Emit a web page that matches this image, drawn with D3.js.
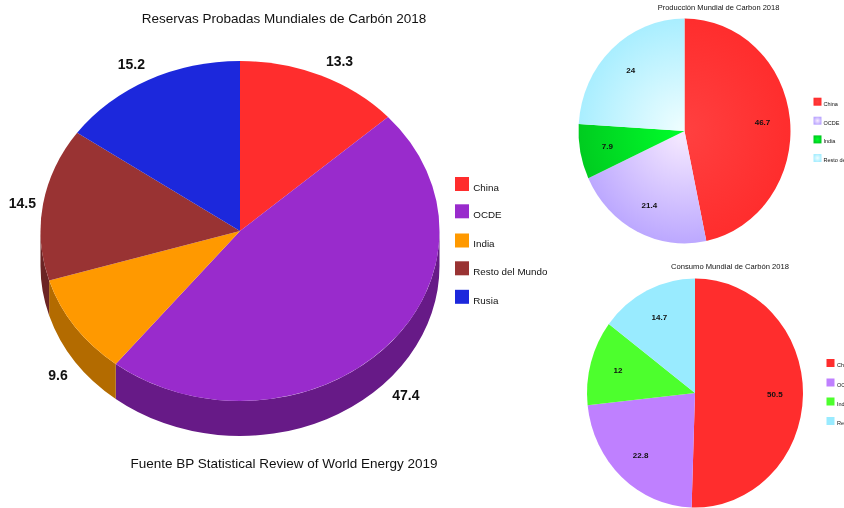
<!DOCTYPE html>
<html><head><meta charset="utf-8">
<script src="https://cdn.jsdelivr.net/npm/d3@7"></script>
<style>
html,body{margin:0;padding:0;background:#fff;overflow:hidden}
svg{display:block;filter:blur(0.45px)}
text{font-family:"Liberation Sans",Arial,sans-serif;fill:#111}
</style></head><body>
<div id="chart"></div>
<script>
// ---- data ----
const reservasCategorias = ["China","OCDE","India","Resto del Mundo","Rusia"];
const reservasValores = [13.3,47.4,9.6,14.5,15.2];
const produccionCategorias = ["China","OCDE","India","Resto del Mundo"];
const produccionValores = [46.7,21.4,7.9,24];
const consumoCategorias = ["China","OCDE","India","Resto del Mundo"];
const consumoValores = [50.5,22.8,12,14.7];

// ---- styles and layout ----
const reservasColores = ["#ff2d2d","#992bcc","#ff9900","#993333","#1c28dc"];
const reservasLados = ["#b32020","#671a87","#b36b00","#6b2424","#141c9a"];
const produccionGrad = [["#ff4040","#ff2d2d"],["#f8ecff","#bca8ff"],["#00ff2a","#00cc20"],["#f0feff","#a9eeff"]];
const consumoColores = ["#ff2d2d","#bf80ff","#4dff2d","#99ebff"];
const W=844,H=508;
const svg=d3.select("#chart").append("svg").attr("width",W).attr("height",H);
const defs=svg.append("defs");
const pie=d3.pie().sort(null).value(d=>d);

function title(txt,x,y,size){
  svg.append("text").attr("x",x).attr("y",y).attr("text-anchor","middle")
    .attr("dominant-baseline","central").attr("font-size",size).text(txt);
}
function legend(cats,fills,x,ys,sw,tx,size,off){
  cats.forEach((c,i)=>{
    svg.append("rect").attr("x",x).attr("y",ys[i]-sw/2).attr("width",sw).attr("height",sw).attr("fill",fills[i]);
    svg.append("text").attr("x",tx).attr("y",ys[i]+off).attr("dominant-baseline","central")
      .attr("font-size",size).attr("fill","#222").text(c);
  });
}

// ---- main 3D pie ----
const M={cx:240,cy:231,rx:199.5,ry:170,depth:35};
const mainArcs=pie(reservasValores);
const mg=svg.append("g").attr("transform",`translate(${M.cx},${M.cy}) scale(${M.rx/100},${M.ry/100})`);
const arcMain=d3.arc().innerRadius(0).outerRadius(100);
const dy=M.depth/(M.ry/100);
const ang=a=>a-Math.PI/2;
mainArcs.forEach((a,i)=>{
  const s=Math.max(a.startAngle,Math.PI/2), e=Math.min(a.endAngle,Math.PI*1.5);
  if(e<=s) return;
  const p=d3.path();
  p.arc(0,0,100,ang(s),ang(e),false);
  p.arc(0,dy,100,ang(e),ang(s),true);
  p.closePath();
  mg.append("path").attr("d",p.toString()).attr("fill",reservasLados[i]);
});
mg.selectAll("path.top").data(mainArcs).join("path").attr("class","top")
  .attr("d",arcMain).attr("fill",(d,i)=>reservasColores[i]);

const mainLabelNudge=[[8,0],[1.5,-2],[4.5,8],[5,2],[-5,-2]];
mainArcs.forEach((a,i)=>{
  const mid=(a.startAngle+a.endAngle)/2;
  const front=Math.cos(mid)<0;
  const x=M.cx+(M.rx+26)*Math.sin(mid)+mainLabelNudge[i][0];
  const y=M.cy-(M.ry+16)*Math.cos(mid)+(front?M.depth*(-Math.cos(mid))*1.6:0)+mainLabelNudge[i][1];
  svg.append("text").attr("x",x).attr("y",y).attr("text-anchor","middle").attr("dominant-baseline","central")
    .attr("font-size",14).attr("font-weight","bold").text(reservasValores[i]);
});
title("Reservas Probadas Mundiales de Carbón 2018",284,18,13.5);
title("Fuente BP Statistical Review of World Energy 2019",284,463,13.5);
legend(reservasCategorias,reservasColores,455,[184,211.3,240.5,268.3,296.8],14,473.3,9.8,3.2);

// ---- flat pies ----
function flatPie(cfg){
  const g=svg.append("g").attr("transform",`translate(${cfg.cx},${cfg.cy}) scale(${cfg.rx/100},${cfg.ry/100})`);
  const arc=d3.arc().innerRadius(0).outerRadius(100);
  const lab=d3.arc().innerRadius(74).outerRadius(74);
  const arcs=pie(cfg.values);
  g.selectAll("path").data(arcs).join("path").attr("d",arc).attr("fill",(d,i)=>cfg.fills[i]);
  arcs.forEach((a,i)=>{
    const c=lab.centroid(a);
    svg.append("text").attr("x",cfg.cx+c[0]*cfg.rx/100).attr("y",cfg.cy+c[1]*cfg.ry/100)
      .attr("text-anchor","middle").attr("dominant-baseline","central")
      .attr("font-size",8).attr("font-weight","bold").text(cfg.values[i]);
  });
}
function radial(id,stops,units){
  const g=defs.append("radialGradient").attr("id",id);
  if(units){
    g.attr("gradientUnits","userSpaceOnUse").attr("cx",0).attr("cy",0).attr("r",100).attr("fx",0).attr("fy",0);
  }
  g.append("stop").attr("offset","0%").attr("stop-color",stops[0]);
  g.append("stop").attr("offset","100%").attr("stop-color",stops[1]);
  return `url(#${id})`;
}
const prodFill=produccionGrad.map((s,i)=>radial("pg"+i,s,true));
const prodLeg=produccionGrad.map((s,i)=>radial("pl"+i,s,false));
flatPie({cx:684.5,cy:131,rx:106,ry:112.5,values:produccionValores,fills:prodFill});
title("Producción Mundial de Carbon 2018",718.5,7,7.5);
legend(produccionCategorias,prodLeg,813.5,[101.7,120.7,139.4,158],8,823.5,5.5,2);

flatPie({cx:695,cy:393,rx:108,ry:114.5,values:consumoValores,fills:consumoColores});
title("Consumo Mundial de Carbón 2018",730,266.5,7.6);
legend(consumoCategorias,consumoColores,826.5,[363,382.5,401.5,421],8,837,5.5,2);
</script>
</body></html>
